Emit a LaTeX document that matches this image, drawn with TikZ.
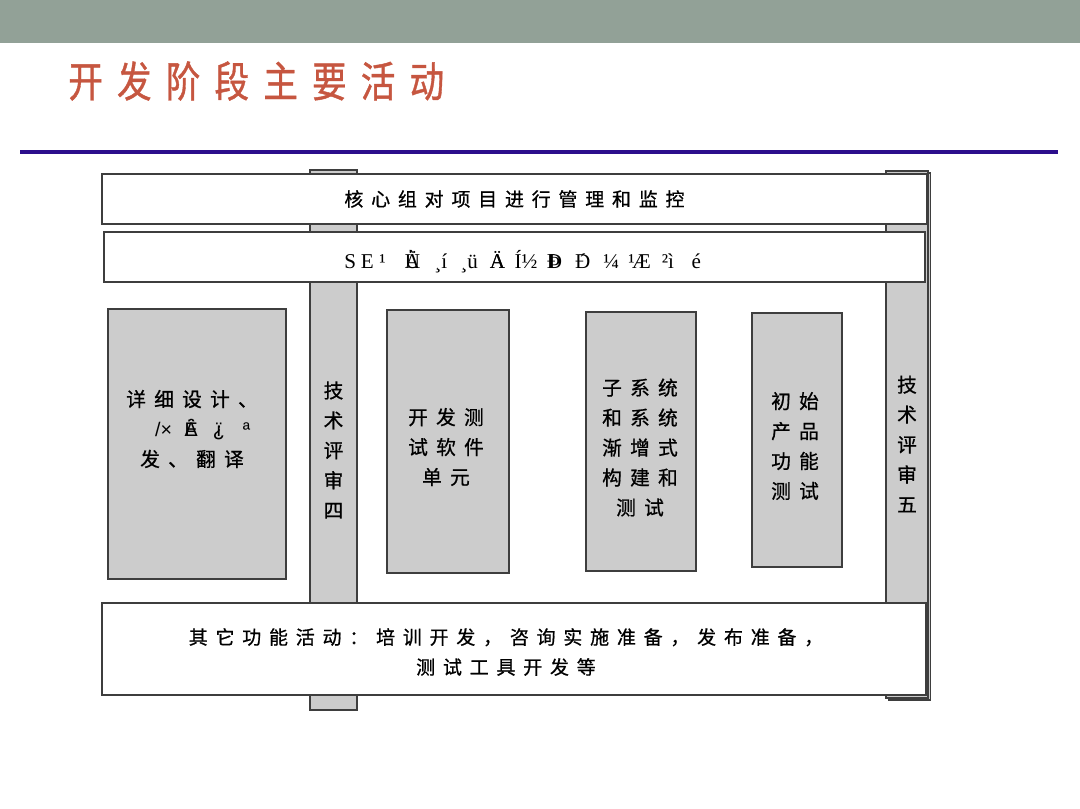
\documentclass[tikz,border=0pt]{standalone}
\usepackage{fontspec}
\setmainfont{Liberation Serif}
\newfontfamily\cjk{Noto Sans CJK SC}
\newfontfamily\latinsans{Liberation Sans}
\usetikzlibrary{positioning}

\definecolor{bandgray}{RGB}{146,161,151}
\definecolor{titlered}{RGB}{198,86,64}
\definecolor{ruleblue}{RGB}{44,14,140}
\definecolor{boxgray}{RGB}{204,204,204}
\definecolor{edgegray}{RGB}{62,62,62}

% fonts for the boxes
\newcommand\cjktitle{\cjk\fontsize{30}{34}\selectfont\addfontfeature{LetterSpace=41,FakeBold=1}}
\newcommand\cjkbox{\cjk\fontsize{14}{21.3}\selectfont\addfontfeature{LetterSpace=42,FakeBold=0.8}}
\newcommand\cjkbar{\cjk\fontsize{13.5}{21.3}\selectfont\addfontfeature{LetterSpace=41,FakeBold=0.8}}
\newcommand\cjkcol{\cjk\fontsize{14}{21.3}\selectfont\addfontfeature{FakeBold=0.8}}
\newcommand\garblefont{\fontsize{15}{18}\selectfont}
\newcommand\ovl[2]{{\ooalign{#1\cr\hidewidth#2\hidewidth\cr}}}
\newcommand\gcell[1]{\makebox[7.1mm]{#1}}
\newcommand\dcell[1]{\makebox[6.9mm]{#1}}

\begin{document}
\begin{tikzpicture}[x=0.25mm, y=-0.25mm,
    bar/.style={draw=edgegray,line width=0.9pt,fill=white,inner sep=0pt},
    pillar/.style={draw=edgegray,line width=0.9pt,fill=boxgray,inner sep=0pt},
    stage/.style={draw=edgegray,line width=0.9pt,fill=boxgray,inner sep=0pt},
    txt/.style={font=\cjkbox,align=center,inner sep=0pt},
    bartxt/.style={font=\cjkbar,align=center,inner sep=0pt},
    coltxt/.style={font=\cjkcol,align=center,inner sep=0pt},
    garble/.style={font=\garblefont,inner sep=0pt}
]
\useasboundingbox (0,0) rectangle (1080,808);

% header
\fill[bandgray] (0,0) rectangle (1080,43);
\node[anchor=west,text=titlered,font=\cjktitle,inner sep=0pt] (title) at (68,81) {\scalebox{0.82}[1]{开发阶段主要活动}};
\draw[ruleblue,line width=1mm] (20,152) -- (1058,152);

% review pillars, behind the bars
\node[pillar,minimum width=47*0.25mm,minimum height=540*0.25mm] (pillar4) at (333.5,440) {};
\node[pillar,minimum width=42*0.25mm,minimum height=527*0.25mm] (shadow5) at (909.5,436.5) {};
\node[pillar,minimum width=42*0.25mm,minimum height=527*0.25mm] (pillar5) at (907,434.5) {};
\node[coltxt] (review4) at (333.5,450) {技\\术\\评\\审\\四};
\node[coltxt] (review5) at (907,444) {技\\术\\评\\审\\五};

% bars
\node[bar,bartxt,minimum width=825*0.25mm,minimum height=50*0.25mm] (coregroup) at (514.5,199) {核心组对项目进行管理和监控};
\node[bar,minimum width=821*0.25mm,minimum height=50*0.25mm] (semgmt) at (514.5,257) {};
\node[garble,anchor=base west] (semgmt-txt) at (341.5,268) {\makebox[4.25mm]{S}\makebox[4.25mm]{E}\makebox[3.4mm]{¹}\hspace{2.2mm}%
  \gcell{\ovl{Ü}{À}}\gcell{¸í}\gcell{¸ü}\gcell{\ovl{Ä}{A}}\gcell{Í½}\gcell{\ovl{Ð}{Þ}}\gcell{\ovl{Ð}{´}}\gcell{¼}\gcell{¹\kern-.12emÆ}\gcell{²ì}\gcell{é}};
\node[bar,minimum width=824*0.25mm,minimum height=92*0.25mm] (otherwork) at (514,649) {};
\node[bartxt] (otherwork-txt) at (506,652) {其它功能活动：培训开发，咨询实施准备，发布准备，\\测试工具开发等};

% stages
\node[stage,minimum width=178*0.25mm,minimum height=270*0.25mm] (design) at (197,444) {};
\node[stage,minimum width=122*0.25mm,minimum height=263*0.25mm] (unit) at (448,441.5) {};
\node[stage,minimum width=110*0.25mm,minimum height=259*0.25mm] (subsys) at (641,441.5) {};
\node[stage,minimum width=90*0.25mm,minimum height=254*0.25mm] (product) at (797,440) {};

\node[txt] (design-txt) at (192,429) {详细设计、\\
  {\latinsans\fontsize{14}{21.3}\selectfont\hspace*{6.5mm}\dcell{/×}\dcell{\ovl{Ä}{Ê}}\dcell{\ovl{ï}{¿}}\dcell{ª}}\\
  发、翻译};
\node[txt] (unit-txt) at (446,447) {开发测\\试软件\\单元};
\node[txt] (subsys-txt) at (640,447.5) {子系统\\和系统\\渐增式\\构建和\\测试};
\node[txt] (product-txt) at (795,446) {初始\\产品\\功能\\测试};
\end{tikzpicture}
\end{document}
